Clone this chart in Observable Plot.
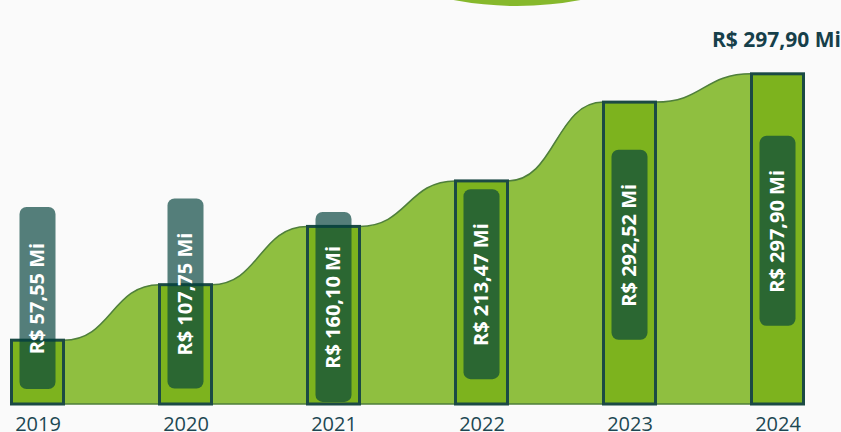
<!DOCTYPE html>
<html><head><meta charset="utf-8">
<script src="https://cdn.jsdelivr.net/npm/d3@7"></script>
<script src="https://cdn.jsdelivr.net/npm/@observablehq/plot@0.6"></script>
<style>
html,body{margin:0;padding:0;background:#fafafa;overflow:hidden;}
#wrap{position:relative;width:841px;height:432px;overflow:hidden;font-family:"Open Sans",sans-serif;}
#wrap svg{position:absolute;left:0;top:0;}
#blob{position:absolute;width:678px;height:678px;border-radius:50%;background:#86b82c;left:178px;top:-672px;}
</style></head><body><div id="wrap"></div>
<script>
// Data
const years = [2019, 2020, 2021, 2022, 2023, 2024];
const revenue = [57.55, 107.75, 160.10, 213.47, 292.52, 297.90];   // R$ millions (labels)
const barHeights = [57.5, 107.5, 160, 201, 272, 297.5];              // drawn heights
const labelMids = [95.5, 99.5, 87.5, 108, 143.5, 156];               // label box centres (same units)

const fmt = v => "R$ " + v.toFixed(2).replace(".", ",") + " Mi";
const data = years.map((year, i) => ({year, value: revenue[i], h: barHeights[i], mid: labelMids[i], label: fmt(revenue[i])}));

const yMax = 364, baseY = 404;
const unitsPerPx = yMax / baseY;       // value units per pixel
const stepPx = 148;                     // x distance between years in px
const barHalf = 26 / stepPx;            // half bar width (years)
const boxHalf = 18 / stepPx;            // half label box width (years)
const boxLen = d => (8 * d.label.length + 94) * unitsPerPx;

const areaPts = data.flatMap(d => [{x: d.year - barHalf, y: d.h}, {x: d.year + barHalf, y: d.h}]);

const chart = Plot.plot({
  width: 841,
  height: 432,
  marginTop: 0, marginBottom: 28, marginLeft: 0, marginRight: 0,
  style: {background: "#fafafa", fontFamily: "'Open Sans', sans-serif", overflow: "visible"},
  x: {domain: [2019, 2024], range: [37.5, 777.5]},
  y: {domain: [0, yMax], range: [baseY, 0], axis: null},
  marks: [
    Plot.areaY(areaPts, {x: "x", y: "y", curve: "bump-x", fill: "#8fbf40", stroke: "#4f7f3b", strokeWidth: 1.5}),
    Plot.rect(data, {x1: d => d.year - barHalf, x2: d => d.year + barHalf, y1: 0, y2: "h", fill: "#7db31e", stroke: "#1b4a44", strokeWidth: 3}),
    Plot.rect(data, {x1: d => d.year - boxHalf, x2: d => d.year + boxHalf,
      y1: d => d.mid - boxLen(d) / 2, y2: d => d.mid + boxLen(d) / 2,
      rx: 7, fill: "#05423c", fillOpacity: 0.68}),
    Plot.text(data, {x: "year", y: "mid", text: "label", rotate: -90, fill: "white", fontWeight: "bold", fontSize: 20}),
    Plot.text(data.slice(-1), {x: "year", frameAnchor: "top", dy: 32, dx: -1.5, text: "label", fill: "#163f4a", fontWeight: "bold", fontSize: 21}),
    Plot.axisX({ticks: years, tickFormat: d => String(d), tickSize: 0, tickPadding: 12, fontSize: 20, color: "#1d4853", label: null})
  ]
});
const wrap = document.getElementById("wrap");
wrap.appendChild(chart);
const blob = document.createElement("div");
blob.id = "blob";
wrap.appendChild(blob);
</script>
</body></html>
